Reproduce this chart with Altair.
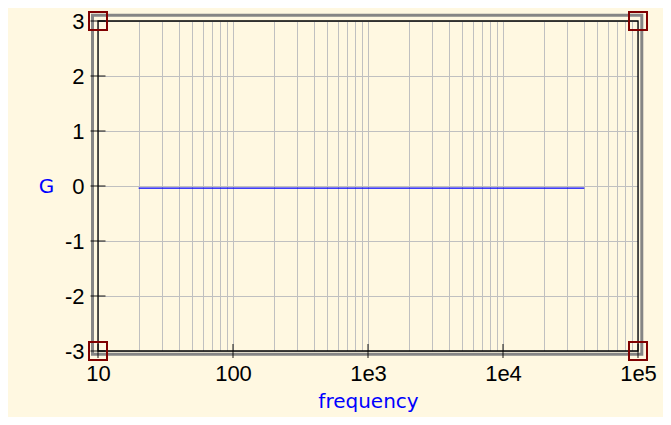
import altair as alt
import pandas as pd

# data
freq = [20, 40000]
gain = [-0.04, -0.04]
x_decades = [10, 100, 1000, 10000, 100000]
x_labels = ["10", "100", "1e3", "1e4", "1e5"]
minor_mult = [1, 2, 3, 4, 5, 6, 7, 8, 9]
y_ticks = [-3, -2, -1, 0, 1, 2, 3]
corner_x = [10, 10, 100000, 100000]
corner_y = [3, -3, 3, -3]

x_grid = [m * d for d in x_decades[:-1] for m in minor_mult] + [x_decades[-1]]

W, H = 540, 330
BG = "#FFF8E1"
LABEL_FONT = "Liberation Sans"
TITLE_FONT = "DejaVu Sans"

dec_arr = "[" + ",".join(str(v) for v in x_decades) + "]"
lab_arr = "[" + ",".join("'" + s + "'" for s in x_labels) + "]"
x_label_expr = f"indexof({dec_arr}, datum.value) >= 0 ? {lab_arr}[indexof({dec_arr}, datum.value)] : ''"

xscale = alt.Scale(type="log", domain=[10, 100000], nice=False)
yscale = alt.Scale(domain=[-3, 3], nice=False)

xaxis = alt.Axis(
    values=x_grid, grid=True, gridColor="#c0c0c0", gridWidth=1,
    ticks=False, tickSize=0, domain=False,
    labelExpr=x_label_expr, labelOverlap=False, labelFlush=False,
    labelFont=LABEL_FONT, labelFontSize=22, labelColor="black", labelPadding=12,
    title="frequency", titleFont=TITLE_FONT, titleFontSize=20, titleFontWeight="normal",
    titleColor="#0000FF", titleX=W / 2, titleY=56, titleBaseline="alphabetic", titleAlign="center",
)
yaxis = alt.Axis(
    values=y_ticks, grid=True, gridColor="#c0c0c0", gridWidth=1,
    ticks=False, tickSize=0, domain=False,
    labelExpr="'' + datum.value", labelOverlap=False, labelFlush=False,
    labelFont=LABEL_FONT, labelFontSize=22, labelColor="black", labelPadding=14,
    title="G", titleFont=TITLE_FONT, titleFontSize=20, titleFontWeight="normal",
    titleColor="#0000FF", titleAngle=0, titleX=-52, titleY=H / 2,
    titleBaseline="middle", titleAlign="center",
)

line_df = pd.DataFrame({"f": freq, "g": gain})
line = alt.Chart(line_df).mark_line(color="#0000FF", strokeWidth=1.2).encode(
    x=alt.X("f:Q", scale=xscale, axis=xaxis),
    y=alt.Y("g:Q", scale=yscale, axis=yaxis),
)

yt_df = pd.DataFrame({"y": y_ticks})
yt = alt.Chart(yt_df).mark_tick(color="black", orient="horizontal", size=15, thickness=1.3, clip=False).encode(
    y=alt.Y("y:Q", scale=yscale, axis=yaxis),
    x=alt.value(0),
)

xt_df = pd.DataFrame({"x": x_decades})
xt = alt.Chart(xt_df).mark_tick(color="black", orient="vertical", size=14, thickness=1.3, clip=False).encode(
    x=alt.X("x:Q", scale=xscale, axis=xaxis),
    y=alt.value(H),
)

frame = alt.Chart(pd.DataFrame({"a": [0]})).mark_rect(
    filled=False, stroke="#858585", strokeWidth=3, clip=False
).encode(
    x=alt.value(-5.5), x2=alt.value(W + 3.8), y=alt.value(-5.8), y2=alt.value(H + 3.2)
)

border = alt.Chart(pd.DataFrame({"a": [0]})).mark_rect(
    filled=False, stroke="black", strokeWidth=1.3, clip=False
).encode(
    x=alt.value(0), x2=alt.value(W), y=alt.value(0), y2=alt.value(H)
)

corner_df = pd.DataFrame({"x": corner_x, "y": corner_y})
corners = alt.Chart(corner_df).mark_point(
    shape="square", filled=False, size=324, stroke="#800000", strokeWidth=2, opacity=1, clip=False
).encode(
    x=alt.X("x:Q", scale=xscale, axis=xaxis),
    y=alt.Y("y:Q", scale=yscale, axis=yaxis),
)

chart = alt.layer(line, frame, border, yt, xt, corners).properties(
    width=W, height=H,
    background=BG,
    padding={"left": 90, "top": 13, "right": 25, "bottom": 66},
    autosize=alt.AutoSizeParams(type="none"),
).configure_view(stroke=None)

chart.save("out.html", embed_options={"renderer": "svg", "actions": False})
